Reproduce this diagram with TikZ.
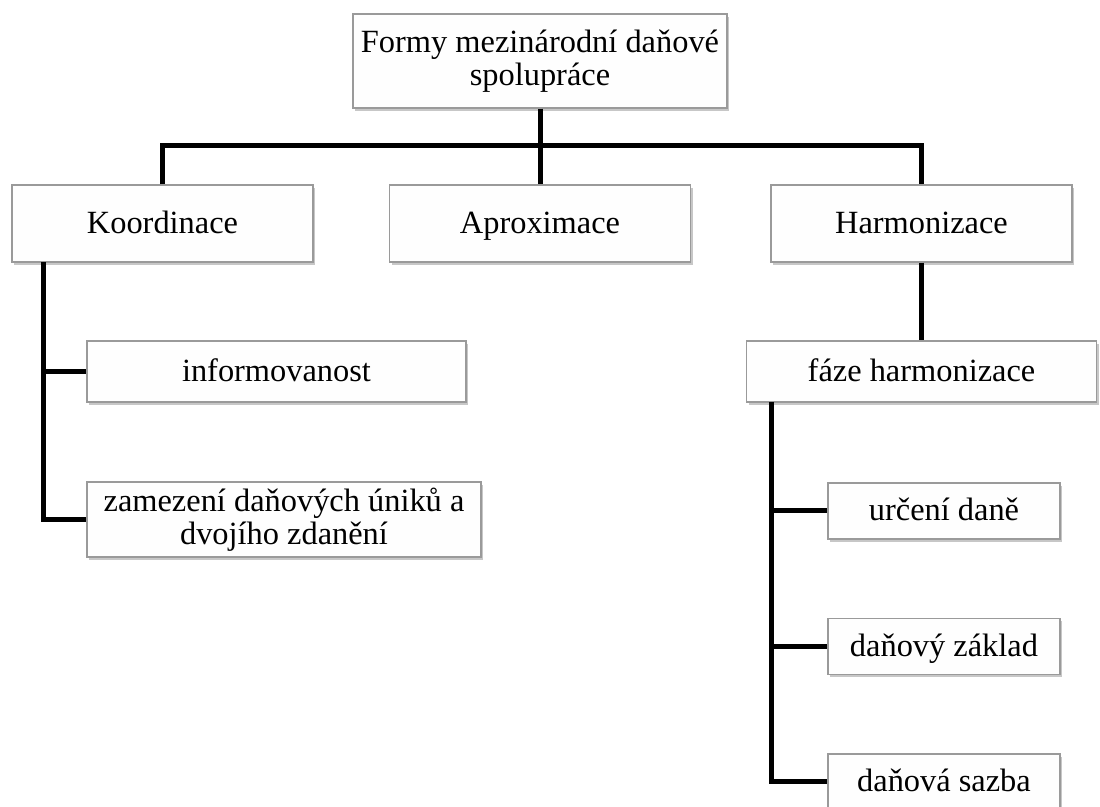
\documentclass[tikz,border=0pt]{standalone}
\usepackage{fontspec}
\setmainfont{Liberation Serif}
\usetikzlibrary{shadows}

\definecolor{formline}{HTML}{000000}
\definecolor{formedge}{HTML}{9A9A9A}
\definecolor{formfill}{HTML}{FEFEFE}

\begin{document}
\begin{tikzpicture}[
  x=.5pt,y=-.5pt,
  font=\fontsize{16.2}{16.6}\selectfont,
  box/.style={draw=formedge,fill=formfill,line width=.7pt,align=center,
              inner sep=0pt,
              drop shadow={shadow xshift=1pt,shadow yshift=-1.4pt,
                           fill=black,opacity=.22}},
  oneline/.style={box,text height=12.2pt,text depth=2.3pt},
  rootbox/.style={box,minimum width=187pt,minimum height=47pt},
  mainbox/.style={oneline,minimum width=150.5pt,minimum height=38.5pt},
  leafbox/.style={oneline,minimum height=30.5pt},
  stagebox/.style={oneline,minimum width=116pt,minimum height=28pt},
  link/.style={draw=formline,line width=2.5pt}
]
  \useasboundingbox (0,0) rectangle (1100,807);

  \node[rootbox] (forms) at (540,61) {Formy mezinárodní daňové\\spolupráce};
  \node[mainbox] (coord) at (162.5,223.5) {Koordinace};
  \node[mainbox] (approx) at (540,223.5) {Aproximace};
  \node[mainbox] (harm) at (921.5,223.5) {Harmonizace};

  \node[leafbox,minimum width=189.5pt] (info) at (276.5,371.5) {informovanost};
  \node[box,minimum width=197pt,minimum height=37.5pt] (avoid) at (284,519.5)
    {zamezení daňových úniků a\\dvojího zdanění};
  \node[leafbox,minimum width=175pt] (phase) at (921.5,371.5) {fáze harmonizace};

  \node[stagebox] (levy) at (944,511) {určení daně};
  \node[stagebox] (base) at (944,646.5) {daňový základ};
  \node[stagebox] (rate) at (944,782) {daňová sazba};

  % tree connectors
  \coordinate (bus) at (540,146);
  \coordinate (cspine) at (43,262);
  \coordinate (pspine) at (771,402);
  \draw[link] (forms.south) -- (approx.north);
  \draw[link] (coord.north) |- (bus) -| (harm.north);
  \draw[link] (harm.south) -- (phase.north);
  \draw[link] (cspine) |- (avoid.west);
  \draw[link] (cspine |- info.west) -- (info.west);
  \draw[link] (pspine) |- (rate.west);
  \draw[link] (pspine |- levy.west) -- (levy.west);
  \draw[link] (pspine |- base.west) -- (base.west);
\end{tikzpicture}
\end{document}
